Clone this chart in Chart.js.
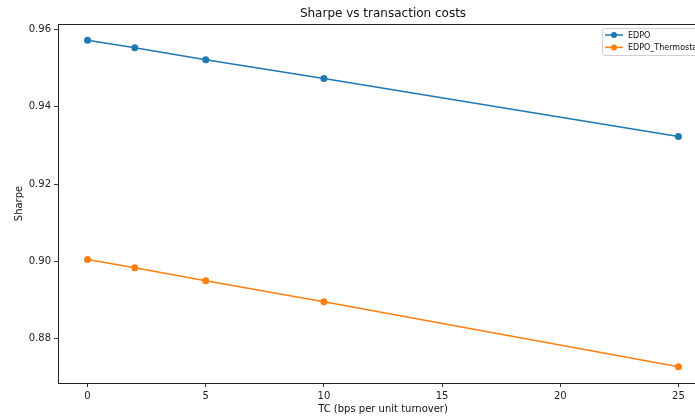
<!DOCTYPE html>
<html>
<head>
<meta charset="utf-8">
<script src="https://cdn.jsdelivr.net/npm/chart.js@4/dist/chart.umd.min.js"></script>
<style>
  html, body { margin: 0; padding: 0; background: #fff; overflow: hidden; width: 695px; height: 417px; }
  #wrap { width: 766px; height: 417px; }
</style>
</head>
<body>
<div id="wrap"><canvas id="c" width="766" height="417"></canvas></div>
<script>
// Transaction cost levels (bps per unit turnover) and resulting Sharpe ratios
const tcBps = [0, 2, 5, 10, 25];
const sharpeEDPO = [0.9572, 0.9553, 0.9522, 0.9473, 0.9323];
const sharpeThermostat = [0.9005, 0.8984, 0.8950, 0.8896, 0.8728];
const seriesNames = ['EDPO', 'EDPO_Thermostat'];
const seriesColors = ['#1f77b4', '#ff7f0e'];
const xTicks = [0, 5, 10, 15, 20, 25];
const yTicks = [0.88, 0.90, 0.92, 0.94, 0.96];
const chartTitle = 'Sharpe vs transaction costs';
const xLabel = 'TC (bps per unit turnover)';
const yLabel = 'Sharpe';

const FONT = '"DejaVu Sans", sans-serif';

// 5% margins around the data, like matplotlib's autoscale
function padRange(vals) {
  const lo = Math.min(...vals), hi = Math.max(...vals);
  const m = (hi - lo) * 0.05;
  return [lo - m, hi + m];
}
const [xMin, xMax] = padRange(tcBps);
const [yMin, yMax] = padRange(sharpeEDPO.concat(sharpeThermostat));

// Axes frame, title and the in-plot legend
const framePlugin = {
  id: 'frame',
  afterDraw(chart) {
    const { ctx, chartArea: a } = chart;
    ctx.save();
    ctx.strokeStyle = '#222';
    ctx.lineWidth = 1;
    ctx.strokeRect(Math.round(a.left) + 0.5, Math.round(a.top) + 0.5,
                   Math.round(a.right - a.left), Math.round(a.bottom - a.top));

    // title
    ctx.fillStyle = '#111';
    ctx.font = '12px ' + FONT;
    ctx.textAlign = 'center';
    ctx.textBaseline = 'middle';
    ctx.fillText(chartTitle, (a.left + a.right) / 2, 14);

    // legend
    const bx = a.right - 106, by = a.top + 4, bw = 150, bh = 27;
    ctx.fillStyle = 'rgba(255,255,255,0.85)';
    ctx.strokeStyle = '#d0d0d0';
    ctx.lineWidth = 1;
    ctx.beginPath();
    ctx.roundRect(bx + 0.5, by + 0.5, bw, bh, 2);
    ctx.fill();
    ctx.stroke();
    ctx.font = '8px ' + FONT;
    ctx.textAlign = 'left';
    seriesNames.forEach((name, i) => {
      const y = by + 7 + i * 12.4;
      ctx.strokeStyle = seriesColors[i];
      ctx.lineWidth = 1.5;
      ctx.beginPath();
      ctx.moveTo(bx + 3, y);
      ctx.lineTo(bx + 21, y);
      ctx.stroke();
      ctx.fillStyle = seriesColors[i];
      ctx.beginPath();
      ctx.arc(bx + 12, y, 3, 0, Math.PI * 2);
      ctx.fill();
      ctx.fillStyle = '#111';
      ctx.fillText(name, bx + 26, y + 0.5);
    });
    ctx.restore();
  }
};

new Chart(document.getElementById('c'), {
  type: 'line',
  data: {
    datasets: [
      {
        label: seriesNames[0],
        data: tcBps.map((x, i) => ({ x, y: sharpeEDPO[i] })),
        borderColor: seriesColors[0],
        backgroundColor: seriesColors[0],
        borderWidth: 1.5,
        pointRadius: 3.5,
        pointBorderWidth: 0,
        tension: 0
      },
      {
        label: seriesNames[1],
        data: tcBps.map((x, i) => ({ x, y: sharpeThermostat[i] })),
        borderColor: seriesColors[1],
        backgroundColor: seriesColors[1],
        borderWidth: 1.5,
        pointRadius: 3.5,
        pointBorderWidth: 0,
        tension: 0
      }
    ]
  },
  options: {
    responsive: false,
    animation: false,
    devicePixelRatio: 1,
    layout: { padding: { top: 24, right: 58, bottom: 0, left: 0 } },
    plugins: { legend: { display: false }, title: { display: false }, tooltip: { enabled: false } },
    scales: {
      x: {
        type: 'linear',
        min: xMin,
        max: xMax,
        afterBuildTicks: s => { s.ticks = xTicks.map(v => ({ value: v })); },
        afterFit: s => { s.height = 34; },
        grid: { drawOnChartArea: false, drawTicks: true, tickLength: 4, tickColor: '#333' },
        border: { display: false },
        ticks: { color: '#222', font: { family: FONT, size: 10 }, padding: 3, maxRotation: 0 },
        title: { display: true, text: xLabel, color: '#111', font: { family: FONT, size: 10 }, padding: { top: 0, bottom: 2 } }
      },
      y: {
        type: 'linear',
        min: yMin,
        max: yMax,
        afterBuildTicks: s => { s.ticks = yTicks.map(v => ({ value: v })); },
        afterFit: s => { s.width = 58; },
        grid: { drawOnChartArea: false, drawTicks: true, tickLength: 4, tickColor: '#333' },
        border: { display: false },
        ticks: { color: '#222', font: { family: FONT, size: 10 }, padding: 3, callback: v => v.toFixed(2) },
        title: { display: true, text: yLabel, color: '#111', font: { family: FONT, size: 10 }, padding: { top: 13, bottom: 0 } }
      }
    }
  },
  plugins: [framePlugin]
});
</script>
</body>
</html>
